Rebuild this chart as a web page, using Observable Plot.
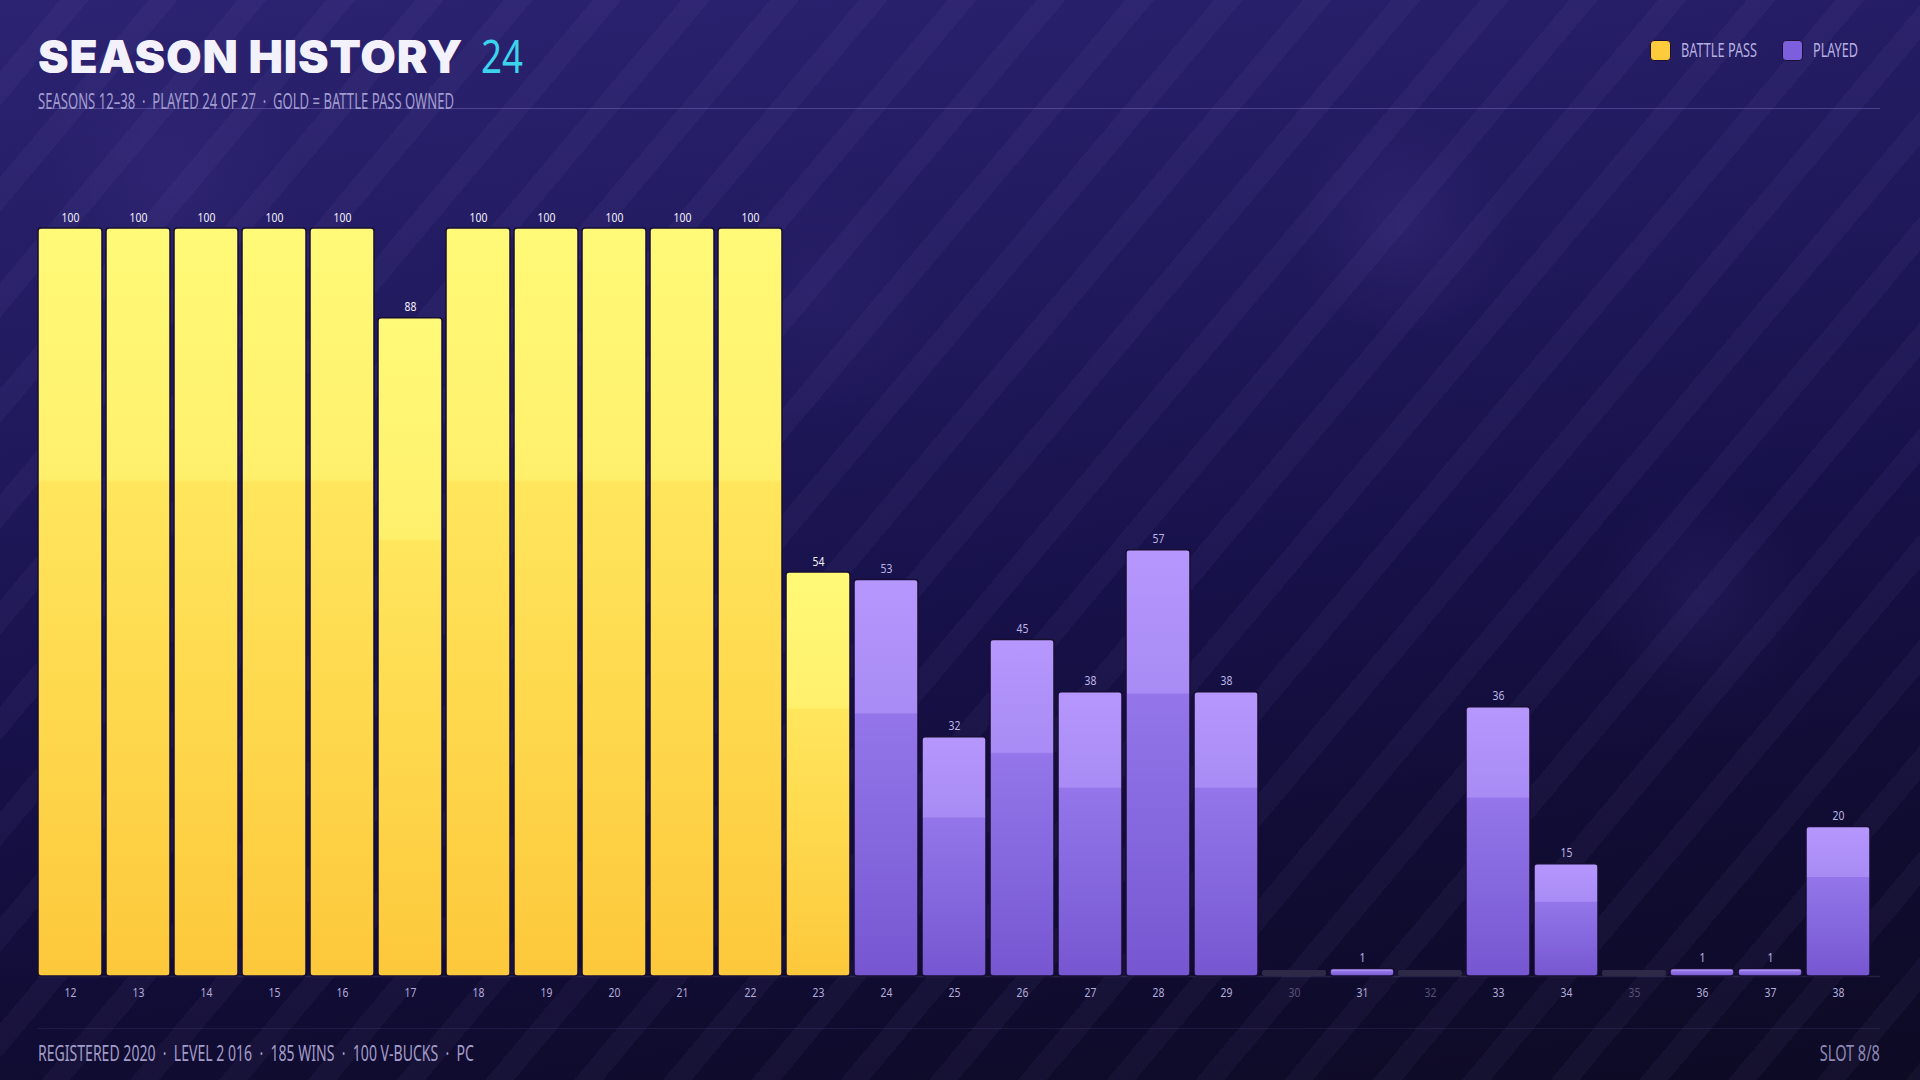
<!DOCTYPE html>
<html>
<head>
<meta charset="utf-8">
<script src="https://cdn.jsdelivr.net/npm/d3@7"></script>
<script src="https://cdn.jsdelivr.net/npm/@observablehq/plot@0.6"></script>
<style>
  html, body { margin: 0; padding: 0; }
  body {
    width: 1920px; height: 1080px; overflow: hidden; position: relative;
    background:
      radial-gradient(circle at 1402px 226px, rgba(90,70,170,0.18) 0, rgba(90,70,170,0) 110px),
      radial-gradient(circle at 1702px 600px, rgba(90,70,170,0.14) 0, rgba(90,70,170,0) 110px),
      radial-gradient(circle at 170px 180px, rgba(90,70,170,0.14) 0, rgba(90,70,170,0) 130px),
      radial-gradient(circle at 820px 300px, rgba(90,70,170,0.10) 0, rgba(90,70,170,0) 120px),
      repeating-linear-gradient(130deg, rgba(255,255,255,0) 0px, rgba(255,255,255,0) 46px, rgba(190,170,255,0.045) 46px, rgba(190,170,255,0.045) 68px),
      linear-gradient(172deg, #2c2372 0%, #211a5e 30%, #17114a 55%, #110c33 78%, #0d0a24 100%);
  }
  .cond { font-family: "Noto Sans", "Roboto", sans-serif; white-space: nowrap; }
  #title { position: absolute; left: 38px; top: 28px; white-space: nowrap; font-family: "Inter", "Lato", sans-serif; font-weight: 900; font-size: 46px; color: #f3f1fb; letter-spacing: 0.8px; }
  #num { position: absolute; left: 481px; top: 24px; font-size: 46px; color: #3cd3ec; }
  #subtitle { position: absolute; left: 38px; top: 87px; font-size: 21px; color: #a29cd0; }
  .hline { position: absolute; left: 38px; width: 1842px; height: 1px; }
  #hl1 { top: 108px; background: rgba(150,135,220,0.35); }
  #hl2 { top: 1028px; background: rgba(150,135,220,0.12); }
  #legend { position: absolute; right: 62px; top: 37px; display: flex; align-items: center; font-size: 19px; color: #b6afe0; }
  #legend .sw { width: 21px; height: 21px; border-radius: 4px; border: 1px solid #1b1034; margin-right: 10px; box-sizing: border-box; }
  #legend .item { display: flex; align-items: center; margin-left: 25px; }
  #footer { position: absolute; left: 38px; top: 1039px; font-size: 21px; color: #a29cc8; }
  #slot { position: absolute; right: 40px; top: 1039px; font-size: 21px; color: #8d87b4; }
  #chart { position: absolute; left: 0; top: 0; }
</style>
</head>
<body>
<div id="title">SEASON HISTORY</div>
<div id="num" class="cond">24</div>
<div id="subtitle" class="cond">SEASONS 12–38 &nbsp;·&nbsp; PLAYED 24 OF 27 &nbsp;·&nbsp; GOLD = BATTLE PASS OWNED</div>
<div class="hline" id="hl1"></div>
<div id="legend" class="cond"></div>
<div id="chart"></div>
<div class="hline" id="hl2"></div>
<div id="footer" class="cond">REGISTERED 2020 &nbsp;·&nbsp; LEVEL 2 016 &nbsp;·&nbsp; 185 WINS &nbsp;·&nbsp; 100 V-BUCKS &nbsp;·&nbsp; PC</div>
<div id="slot" class="cond">SLOT 8/8</div>
<script>
// ---- data ----
const seasons    = ["12","13","14","15","16","17","18","19","20","21","22","23","24","25","26","27","28","29","30","31","32","33","34","35","36","37","38"];
const progress   = [100,100,100,100,100,88,100,100,100,100,100,54,53,32,45,38,57,38,0,1,0,36,15,0,1,1,20];
const battlePass = [true,true,true,true,true,true,true,true,true,true,true,true,false,false,false,false,false,false,false,false,false,false,false,false,false,false,false];
const played     = [true,true,true,true,true,true,true,true,true,true,true,true,true,true,true,true,true,true,false,true,false,true,true,false,true,true,true];
const legendItems = ["BATTLE PASS", "PLAYED"];
const legendColors = ["#fdcb3c", "#7b5fdd"];

const rows = seasons.map((s, i) => ({season: s, value: progress[i], bp: battlePass[i], played: played[i]}));

// condensed-look helper (no condensed font installed)
function condenseTo(el, target, origin) {
  el.style.display = "inline-block";
  const w = el.getBoundingClientRect().width;
  const f = target / w;
  el.style.transformOrigin = origin || "left";
  el.style.transform = `scaleX(${f})`;
  if ((origin || "left") === "left") el.style.marginRight = (target - w) + "px";
}

// legend
const lg = document.getElementById("legend");
const legendTargets = [76, 45];
legendItems.forEach((t, i) => {
  const it = document.createElement("div");
  it.className = "item";
  it.innerHTML = `<div class="sw" style="background:${legendColors[i]}"></div><span>${t}</span>`;
  lg.appendChild(it);
  condenseTo(it.querySelector("span"), legendTargets[i]);
});
condenseTo(document.getElementById("subtitle"), 416);
condenseTo(document.getElementById("footer"), 436);
condenseTo(document.getElementById("slot"), 60, "right");
condenseTo(document.getElementById("num"), 42);

const font = '"Noto Sans", "Roboto", sans-serif';

const chart = Plot.plot({
  width: 1920,
  height: 1080,
  marginTop: 228,
  marginBottom: 104,
  marginLeft: 38,
  marginRight: 40,
  style: {background: "transparent", fontFamily: font, overflow: "visible"},
  x: {type: "band", domain: seasons, paddingInner: 0.065, paddingOuter: 0.066, align: 0, axis: null},
  y: {domain: [0, 100], axis: null},
  marks: [
    Plot.ruleY([0], {stroke: "rgba(170,160,230,0.14)", strokeWidth: 1.5}),
    // unplayed stubs
    Plot.barY(rows.filter(d => !d.played), {x: "season", y: "value", fill: "#2d2947", insetTop: -6, rx: 2}),
    // played bars
    Plot.barY(rows.filter(d => d.played), {
      x: "season", y: "value",
      fill: d => d.bp ? "url(#goldGrad)" : "url(#purpleGrad)",
      stroke: "#170e31", strokeWidth: 1.5, rx: 3
    }),
    // value labels
    Plot.text(rows.filter(d => d.played), {
      x: "season", y: "value", text: d => String(d.value),
      dy: -11, fontSize: 13,
      fill: d => d.bp ? "#f4f1ff" : "#bdb4e6"
    }),
    // tick labels
    Plot.text(rows, {
      x: "season", frameAnchor: "bottom", text: "season", dy: 20, fontSize: 13,
      fill: d => d.played ? "#b3abdc" : "#575178"
    })
  ]
});

// narrow the SVG labels around their own anchor (text is placed by a translate)
chart.querySelectorAll("text").forEach(t => {
  const T = t.getAttribute("transform");
  if (T) t.setAttribute("transform", `${T} scale(0.8,1)`);
});

const ns = "http://www.w3.org/2000/svg";
const defs = document.createElementNS(ns, "defs");
defs.innerHTML = `
  <linearGradient id="goldGrad" x1="0" y1="0" x2="0" y2="1">
    <stop offset="0" stop-color="#fffa78"/>
    <stop offset="0.335" stop-color="#fff06c"/>
    <stop offset="0.34" stop-color="#ffe65d"/>
    <stop offset="1" stop-color="#fdc83b"/>
  </linearGradient>
  <linearGradient id="purpleGrad" x1="0" y1="0" x2="0" y2="1">
    <stop offset="0" stop-color="#b597fd"/>
    <stop offset="0.335" stop-color="#a88bf4"/>
    <stop offset="0.34" stop-color="#9476ea"/>
    <stop offset="1" stop-color="#7657d1"/>
  </linearGradient>`;
chart.insertBefore(defs, chart.firstChild);
document.getElementById("chart").appendChild(chart);
</script>
</body>
</html>
